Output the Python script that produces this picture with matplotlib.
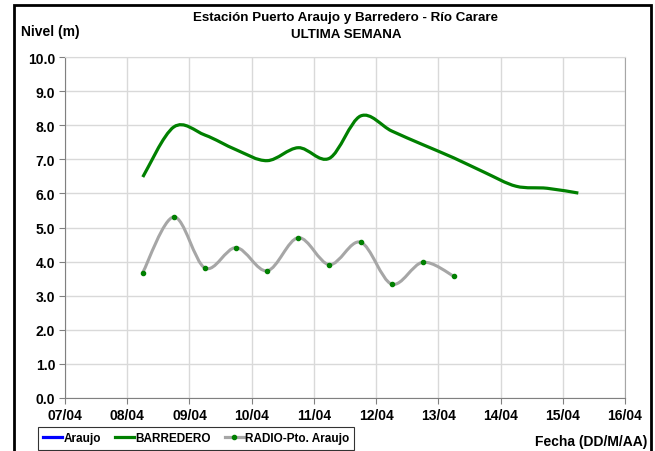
import numpy as np
import matplotlib.pyplot as plt
import matplotlib.dates as mdates
from matplotlib.path import Path
from matplotlib.patches import PathPatch, Rectangle
from matplotlib.lines import Line2D
from datetime import datetime, timedelta

plt.rcParams['font.family'] = ['Liberation Sans Narrow', 'Liberation Sans', 'DejaVu Sans']
plt.rcParams['font.weight'] = 'bold'

# lecturas cada 12 horas (06:00 y 18:00)
inicio = datetime(2013, 4, 8, 6)
barredero = [6.48, 7.95, 7.71, 7.28, 6.96, 7.34, 7.03, 8.27, 7.83, 7.43, 7.04, 6.61, 6.21, 6.15, 6.01]
radio = [3.68, 5.31, 3.81, 4.41, 3.73, 4.70, 3.91, 4.57, 3.34, 3.98, 3.57]
araujo = []

t_barredero = [inicio + timedelta(hours=12 * i) for i in range(len(barredero))]
t_radio = [inicio + timedelta(hours=12 * i) for i in range(len(radio))]
dias = [datetime(2013, 4, 7) + timedelta(days=d) for d in range(10)]


def curva_suave(fechas, valores):
    # curva bezier tipo excel entre los puntos
    pts = np.column_stack([mdates.date2num(fechas), valores])
    ext = np.vstack([pts[0], pts, pts[-1]])
    verts = [pts[0]]
    codes = [Path.MOVETO]
    for i in range(len(pts) - 1):
        p0, p1, p2, p3 = ext[i], ext[i + 1], ext[i + 2], ext[i + 3]
        verts += [p1 + (p2 - p0) / 6, p2 - (p3 - p1) / 6, p2]
        codes += [Path.CURVE4] * 3
    return Path(verts, codes)


W, H = 655, 452
fig = plt.figure(figsize=(W / 100, H / 100), dpi=100)
ax = fig.add_axes([65 / W, 1 - 399 / H, (625 - 65) / W, (399 - 58) / H])

ax.add_patch(PathPatch(curva_suave(t_barredero, barredero), facecolor='none',
                       edgecolor='#008000', lw=2.3, zorder=3))
ax.add_patch(PathPatch(curva_suave(t_radio, radio), facecolor='none',
                       edgecolor='#a6a6a6', lw=2.2, zorder=3))
ax.plot(t_radio, radio, ls='none', marker='o', ms=3, color='#008000', zorder=4)

ax.set_xlim(dias[0], dias[-1])
ax.set_ylim(0, 10)
ax.set_xticks(dias)
ax.xaxis.set_major_formatter(mdates.DateFormatter('%d/%m'))
ax.set_yticks(np.arange(0, 10.5, 1.0))
ax.set_yticklabels([f'{v:.1f}' for v in np.arange(0, 10.5, 1.0)])
ax.grid(True, color='#d9d9d9', lw=1)
ax.set_axisbelow(True)
for s in ['left', 'bottom']:
    ax.spines[s].set_color('#808080')
ax.spines['top'].set_color('#d9d9d9')
ax.spines['right'].set_color('#a6a6a6')
ax.tick_params(direction='out', length=4, color='#808080', labelsize=10, pad=3)

fig.text(346 / W, 1 - 18 / H, 'Estación Puerto Araujo y Barredero - Río Carare',
         ha='center', va='center', fontsize=9.6, fontweight='bold')
fig.text(346 / W, 1 - 35 / H, 'ULTIMA SEMANA', ha='center', va='center',
         fontsize=9.6, fontweight='bold')
fig.text(21 / W, 1 - 32 / H, 'Nivel (m)', ha='left', va='center', fontsize=10, fontweight='bold')
fig.text(647 / W, 1 - 442 / H, 'Fecha (DD/M/AA)', ha='right', va='center',
         fontsize=10, fontweight='bold')

handles = [Line2D([], [], color='#0000ff', lw=2.3),
           Line2D([], [], color='#008000', lw=2.3),
           Line2D([], [], color='#a6a6a6', lw=2.3, marker='o', ms=3,
                  markerfacecolor='#008000', markeredgecolor='#008000')]
ley = fig.legend(handles, ['Araujo', 'BARREDERO', 'RADIO-Pto. Araujo'], ncol=3,
                 loc='upper left', bbox_to_anchor=(38 / W, 1 - 428 / H), fontsize=8.5,
                 frameon=True, fancybox=False, edgecolor='black', handlelength=1.6,
                 handletextpad=0.1, columnspacing=1.2, borderpad=0.45, borderaxespad=0)
ley.get_frame().set_linewidth(0.8)

fig.patches.append(Rectangle((14 / W, -0.05), (651 - 14) / W, 1.05 - 6 / H,
                             transform=fig.transFigure, fill=False, edgecolor='black',
                             lw=2, figure=fig))

fig.savefig('out.png', dpi=100)
